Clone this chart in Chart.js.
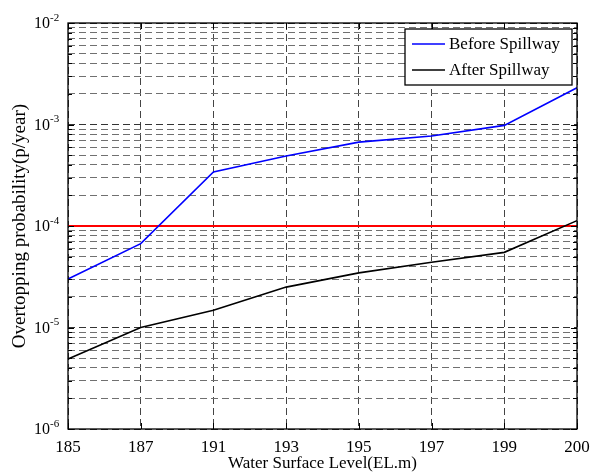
<!DOCTYPE html>
<html>
<head>
<meta charset="utf-8">
<script src="https://cdn.jsdelivr.net/npm/chart.js@4/dist/chart.umd.min.js"></script>
<style>
  html, body { margin: 0; padding: 0; background: #fff; }
</style>
</head>
<body>
<canvas id="overtopChart" width="593" height="474"></canvas>
<script>
// water surface levels (equally spaced categories)
const levels = ["185", "187", "191", "193", "195", "197", "199", "200"];
// overtopping probability
const beforeSpillway = [3.0e-5, 6.7e-5, 3.4e-4, 4.9e-4, 6.7e-4, 7.7e-4, 9.8e-4, 2.3e-3];
const afterSpillway = [4.9e-6, 1.0e-5, 1.48e-5, 2.5e-5, 3.45e-5, 4.4e-5, 5.5e-5, 1.13e-4];
// acceptable risk criterion
const criterion = [1e-4, 1e-4, 1e-4, 1e-4, 1e-4, 1e-4, 1e-4, 1e-4];
// decade exponents shown on the y axis
const decades = [-6, -5, -4, -3, -2];

const serif = "'Liberation Serif', 'Times New Roman', serif";

// 1..9 x 10^k ticks between the decades
const logTicks = [];
decades.forEach((e, i) => {
  if (i === decades.length - 1) {
    logTicks.push({ value: Math.pow(10, e), major: true });
    return;
  }
  for (let m = 1; m <= 9; m++) {
    logTicks.push({ value: m * Math.pow(10, e), major: m === 1 });
  }
});

// frame + inner tick marks like matlab
const framePlugin = {
  id: "frame",
  afterDraw(chart) {
    const { ctx, chartArea: a, scales } = chart;
    ctx.save();
    ctx.strokeStyle = "#000";
    ctx.lineWidth = 1;
    ctx.beginPath();
    scales.y.ticks.forEach((t) => {
      const y = Math.round(scales.y.getPixelForValue(t.value)) + 0.5;
      const len = t.major ? 6 : 4;
      ctx.moveTo(a.left, y);
      ctx.lineTo(a.left + len, y);
      ctx.moveTo(a.right, y);
      ctx.lineTo(a.right - len, y);
    });
    levels.forEach((l, i) => {
      const x = Math.round(scales.x.getPixelForValue(i)) + 0.5;
      ctx.moveTo(x, a.bottom);
      ctx.lineTo(x, a.bottom - 6);
      ctx.moveTo(x, a.top);
      ctx.lineTo(x, a.top + 6);
    });
    ctx.stroke();
    ctx.lineWidth = 1.3;
    ctx.strokeRect(a.left, a.top, a.right - a.left, a.bottom - a.top);
    ctx.restore();
  },
};

// 10^n labels on the y axis
const powerLabels = {
  id: "powerLabels",
  afterDraw(chart) {
    const { ctx, chartArea: a, scales } = chart;
    ctx.save();
    ctx.fillStyle = "#000";
    decades.forEach((e) => {
      const y = scales.y.getPixelForValue(Math.pow(10, e));
      const xr = a.left - 18;
      ctx.font = "16px " + serif;
      ctx.textAlign = "right";
      ctx.textBaseline = "middle";
      ctx.fillText("10", xr, y + 1);
      ctx.font = "11px " + serif;
      ctx.textAlign = "left";
      ctx.fillText("-" + Math.abs(e), xr, y - 5);
    });
    ctx.restore();
  },
};

// boxed legend in the upper right corner
const boxLegend = {
  id: "boxLegend",
  afterDraw(chart) {
    const { ctx, chartArea: a } = chart;
    const items = chart.data.datasets.filter((d) => d.inLegend);
    const w = 167, rowH = 26;
    const h = items.length * rowH + 4;
    const x0 = a.right - 5 - w, y0 = a.top + 6;
    ctx.save();
    ctx.fillStyle = "#fff";
    ctx.fillRect(x0, y0, w, h);
    ctx.strokeStyle = "#000";
    ctx.lineWidth = 1.3;
    ctx.strokeRect(x0, y0, w, h);
    ctx.font = "17px " + serif;
    ctx.textBaseline = "middle";
    items.forEach((d, i) => {
      const y = y0 + 15 + i * rowH;
      ctx.strokeStyle = d.borderColor;
      ctx.lineWidth = 1.6;
      ctx.beginPath();
      ctx.moveTo(x0 + 7, y);
      ctx.lineTo(x0 + 40, y);
      ctx.stroke();
      ctx.fillStyle = "#000";
      ctx.fillText(d.label, x0 + 44, y + 1);
    });
    ctx.restore();
  },
};

const chart = new Chart(document.getElementById("overtopChart"), {
  type: "line",
  data: {
    labels: levels,
    datasets: [
      {
        label: "Before Spillway",
        data: beforeSpillway,
        borderColor: "#0000ff",
        borderWidth: 1.6,
        inLegend: true,
      },
      {
        label: "After Spillway",
        data: afterSpillway,
        borderColor: "#000000",
        borderWidth: 1.6,
        inLegend: true,
      },
      {
        label: "Criterion",
        data: criterion,
        borderColor: "#ff0000",
        borderWidth: 2,
        inLegend: false,
      },
    ],
  },
  options: {
    responsive: false,
    animation: false,
    elements: { point: { radius: 0 }, line: { tension: 0 } },
    layout: { padding: { top: 23, right: 16, left: 0, bottom: 0 } },
    plugins: { legend: { display: false }, tooltip: { enabled: false } },
    scales: {
      x: {
        type: "category",
        offset: false,
        grid: { color: "#444", lineWidth: 1, drawTicks: false, borderDash: [7, 4] },
        border: { display: false, dash: [7, 4] },
        ticks: { color: "#000", font: { family: serif, size: 17 }, padding: 8, maxRotation: 0 },
        title: {
          display: true,
          text: "Water Surface Level(EL.m)",
          color: "#000",
          font: { family: serif, size: 17 },
          padding: { top: 0, bottom: 0 },
        },
        afterFit(scale) {
          scale.height = 45;
          scale.paddingLeft = 0;
          scale.paddingRight = 0;
        },
      },
      y: {
        type: "logarithmic",
        min: 1e-6,
        max: 1e-2,
        afterBuildTicks(scale) { scale.ticks = logTicks.map((t) => ({ ...t })); },
        grid: {
          color: (c) => (c.tick && c.tick.major ? "#333" : "#707070"),
          lineWidth: 1,
          drawTicks: false,
          borderDash: [7, 4],
        },
        border: { display: false, dash: [7, 4] },
        ticks: { display: false },
        title: {
          display: true,
          text: "Overtopping probability(p/year)",
          color: "#000",
          font: { family: serif, size: 19 },
          padding: { top: 9, bottom: 0 },
        },
        afterFit(scale) {
          scale.width = 68;
          scale.paddingTop = 0;
          scale.paddingBottom = 0;
        },
      },
    },
  },
  plugins: [framePlugin, powerLabels, boxLegend],
});
</script>
</body>
</html>
